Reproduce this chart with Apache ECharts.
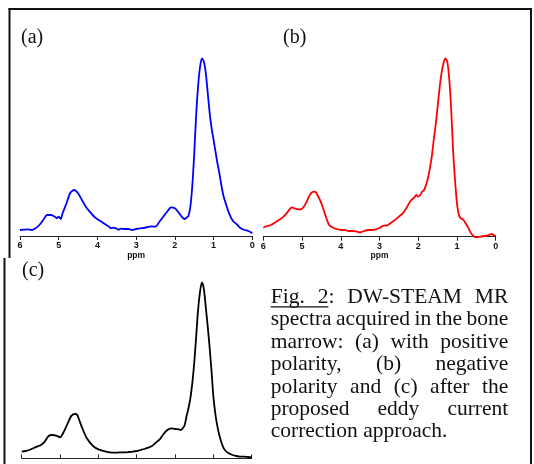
<!DOCTYPE html>
<html><head><meta charset="utf-8">
<script src="https://cdn.jsdelivr.net/npm/echarts@6/dist/echarts.min.js"></script>
<style>html,body{margin:0;padding:0;background:#fff}#c{width:534px;height:464px}</style>
</head><body><div id="c"></div>
<script>
// ---- data (chemical shift in ppm, signal amplitude in arbitrary units) ----
const ppmA = [6.0,5.9,5.8,5.7,5.6,5.5,5.4,5.3,5.2,5.1,5.05,5.0,4.95,4.9,4.8,4.7,4.6,4.5,4.4,4.3,4.2,4.1,4.0,3.9,3.8,3.7,3.65,3.6,3.5,3.45,3.4,3.3,3.2,3.1,3.0,2.9,2.8,2.7,2.6,2.5,2.4,2.3,2.2,2.1,2.0,1.9,1.8,1.75,1.7,1.65,1.6,1.55,1.5,1.45,1.4,1.35,1.3,1.25,1.2,1.15,1.1,1.05,1.0,0.95,0.9,0.85,0.8,0.75,0.7,0.6,0.5,0.4,0.3,0.2,0.1,0.0];
const ampA = [6.0,6.3,6.7,6.0,7.7,11.0,16.0,21.0,21.0,19.3,17.7,19.3,17.0,22.7,32.7,43.3,46.0,42.7,36.0,29.3,24.3,20.0,16.7,14.3,11.7,9.3,7.7,8.3,7.3,6.3,7.3,7.0,7.0,6.0,7.0,7.7,8.0,9.0,9.7,9.3,14.3,19.3,24.3,28.7,27.7,23.3,18.3,17.0,18.3,20.0,29.3,50.0,82.0,121.0,150.0,169.0,177.7,174.3,162.7,142.7,122.7,107.7,96.0,84.3,72.7,62.7,51.0,41.0,34.3,22.7,15.0,11.7,7.7,6.0,5.0,2.7];

const ppmB = [6.0,5.9,5.8,5.7,5.6,5.5,5.4,5.3,5.25,5.2,5.1,5.0,4.9,4.8,4.7,4.65,4.6,4.5,4.4,4.3,4.2,4.1,4.0,3.9,3.8,3.7,3.6,3.5,3.4,3.3,3.2,3.1,3.0,2.9,2.8,2.7,2.6,2.5,2.4,2.3,2.2,2.1,2.05,2.0,1.95,1.9,1.85,1.8,1.75,1.7,1.65,1.6,1.55,1.5,1.45,1.4,1.35,1.3,1.25,1.2,1.15,1.1,1.05,1.0,0.95,0.9,0.85,0.8,0.75,0.7,0.65,0.6,0.55,0.5,0.4,0.3,0.2,0.1,0.05,0.0];
const ampB = [9.0,10.7,11.7,14.0,16.7,19.3,23.3,28.3,29.3,28.3,27.3,28.0,33.3,41.7,45.0,44.7,41.7,33.3,21.7,11.7,9.0,7.7,6.7,6.7,5.7,5.7,5.3,4.3,5.7,6.7,6.7,7.3,8.7,11.0,11.3,14.0,16.7,20.0,23.3,29.0,35.7,39.3,41.7,40.0,41.7,45.0,46.7,51.7,58.3,68.3,80.0,96.7,111.7,130.0,148.3,163.3,173.3,178.3,175.0,158.0,128.0,86.0,56.7,33.3,21.7,18.3,17.3,15.0,11.7,8.3,4.3,1.7,0.0,-0.7,0.0,0.7,1.3,2.7,1.7,0.7];

const ppmC = [6.0,5.9,5.8,5.7,5.6,5.5,5.4,5.3,5.2,5.1,5.0,4.9,4.8,4.7,4.6,4.55,4.5,4.4,4.3,4.2,4.1,4.0,3.9,3.8,3.7,3.6,3.5,3.4,3.3,3.2,3.1,3.0,2.9,2.8,2.7,2.6,2.5,2.4,2.3,2.2,2.1,2.0,1.9,1.85,1.8,1.75,1.7,1.65,1.6,1.55,1.5,1.45,1.4,1.35,1.3,1.25,1.2,1.15,1.1,1.05,1.0,0.95,0.9,0.85,0.8,0.75,0.7,0.6,0.5,0.4,0.3,0.2,0.1,0.0];
const ampC = [6.7,7.3,8.3,10.0,11.7,13.3,16.7,22.3,23.3,22.7,21.0,26.7,35.0,42.7,44.3,43.3,38.3,28.3,20.0,15.0,11.0,9.0,7.7,6.7,6.0,5.7,5.7,6.0,6.0,6.3,6.7,7.3,8.3,9.3,10.7,12.3,15.7,19.0,24.3,28.3,30.0,29.3,29.0,28.3,30.0,33.0,42.0,50.0,60.0,75.0,95.0,121.0,148.0,166.0,176.0,170.0,152.0,133.0,112.0,88.0,62.0,45.0,33.0,24.0,17.0,11.7,8.3,5.0,3.3,2.3,1.7,1.7,1.3,1.0];

const ppmTicks = [6,5,4,3,2,1,0];
const panelLabels = ['(a)','(b)','(c)'];
const axisName = 'ppm';
const captionLines = [
  'Fig. 2: DW-STEAM MR',
  'spectra acquired in the bone',
  'marrow: (a) with positive',
  'polarity, (b) negative',
  'polarity and (c) after the',
  'proposed eddy current',
  'correction approach.'
];
const underlinedPart = 'Fig. 2';

// ---- chart ----
const pairs = (xs, ys) => xs.map((x, i) => [x, ys[i]]);
const chart = echarts.init(document.getElementById('c'), null, {renderer: 'canvas'});

function xAxisFor(gridIndex, showLabels, inside) {
  return {
    type: 'value', gridIndex, min: 0, max: 6, interval: 1, inverse: true,
    axisLine: {show: true, onZero: false, lineStyle: {color: '#222', width: 1}},
    axisTick: {show: true, inside: inside, length: 4, lineStyle: {color: '#222', width: 1}},
    axisLabel: {show: showLabels, margin: 5, fontSize: 9, fontWeight: 'bold', color: '#111',
      fontFamily: '"Liberation Sans", Arial, sans-serif',
      formatter: v => ppmTicks.includes(v) ? String(v) : ''},
    splitLine: {show: false},
    name: showLabels ? axisName : '', nameLocation: 'middle', nameGap: 13,
    nameTextStyle: {fontSize: 8.5, fontWeight: 'bold', color: '#111', fontFamily: '"Liberation Sans", Arial, sans-serif'}
  };
}
function yAxisFor(gridIndex) {
  return {type: 'value', gridIndex, min: 0, max: 200, show: false, splitLine: {show: false}};
}
function lineSeries(idx, data, color) {
  return {type: 'line', xAxisIndex: idx, yAxisIndex: idx, data, showSymbol: false, symbol: 'none',
    smooth: 0.25, clip: false, lineStyle: {color, width: 1.8}, animation: false};
}

// caption layout (justified text)
const capFont = '21.5px "Liberation Serif", "Times New Roman", serif';
const meas = document.createElement('canvas').getContext('2d');
meas.font = capFont;
const capLeft = 270.7, capRight = 508.3, capTop = 297.3, capStep = 22.4;
const graphics = [];
captionLines.forEach((line, li) => {
  const words = line.split(' ');
  const widths = words.map(w => meas.measureText(w).width);
  const total = widths.reduce((a, b) => a + b, 0);
  const isLast = li === captionLines.length - 1;
  const gap = isLast ? meas.measureText(' ').width : (capRight - capLeft - total) / (words.length - 1);
  let x = capLeft;
  const y = capTop + li * capStep;
  words.forEach((w, wi) => {
    graphics.push({type: 'text', silent: true, style: {text: w, x, y, font: capFont, fill: '#111', align: 'left', verticalAlign: 'middle'}});
    x += widths[wi] + gap;
  });
  if (li === 0) {
    const parts = underlinedPart.split(' ');
    const uw = parts.reduce((s, p) => s + meas.measureText(p).width, 0) + gap * (parts.length - 1);
    graphics.push({type: 'line', silent: true, shape: {x1: capLeft, y1: y + 9.5, x2: capLeft + uw, y2: y + 9.5}, style: {stroke: '#111', lineWidth: 1.2}});
  }
});
// panel letters
const labelPos = [[21, 37.5], [283, 37.5], [22, 270.7]];
panelLabels.forEach((t, i) => {
  graphics.push({type: 'text', silent: true, style: {text: t, x: labelPos[i][0], y: labelPos[i][1], font: '20px "Liberation Serif", serif', fill: '#111', align: 'left', verticalAlign: 'middle'}});
});
// outer frame
const frame = [[8.5, 9, 532, 9], [9.5, 8, 9.5, 258], [4.5, 258, 4.5, 464], [531, 8, 531, 464]];
frame.forEach(f => graphics.push({type: 'line', silent: true, shape: {x1: f[0], y1: f[1], x2: f[2], y2: f[3]}, style: {stroke: '#111', lineWidth: 2}}));

chart.setOption({
  animation: false,
  backgroundColor: '#fff',
  grid: [
    {left: 20, top: 36, width: 232.3, height: 200},
    {left: 263.3, top: 36.7, width: 232.4, height: 200},
    {left: 21.7, top: 258.3, width: 230, height: 200}
  ],
  xAxis: [xAxisFor(0, true, false), xAxisFor(1, true, false), xAxisFor(2, false, true)],
  yAxis: [yAxisFor(0), yAxisFor(1), yAxisFor(2)],
  series: [
    lineSeries(0, pairs(ppmA, ampA), '#0000ff'),
    lineSeries(1, pairs(ppmB, ampB), '#ff0000'),
    lineSeries(2, pairs(ppmC, ampC), '#000000')
  ],
  graphic: graphics
});
</script></body></html>
